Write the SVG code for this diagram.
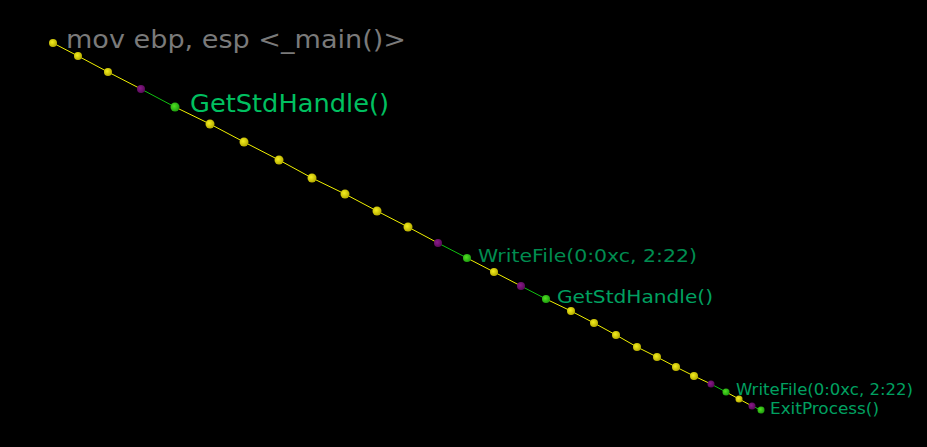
<svg xmlns="http://www.w3.org/2000/svg" width="927" height="447" viewBox="0 0 927 447">
<defs>
<radialGradient id="gy" cx="0.4" cy="0.4" r="0.6"><stop offset="0" stop-color="#f4ee20"/><stop offset="1" stop-color="#b8ae00"/></radialGradient>
<radialGradient id="gg" cx="0.4" cy="0.4" r="0.6"><stop offset="0" stop-color="#50e020"/><stop offset="1" stop-color="#20a010"/></radialGradient>
<radialGradient id="gp" cx="0.4" cy="0.4" r="0.6"><stop offset="0" stop-color="#8a1a8a"/><stop offset="1" stop-color="#5a0a5a"/></radialGradient>
</defs>
<style>
.y{stroke:#f0f000;stroke-width:1;fill:none}
.g{stroke:#10c010;stroke-width:1;fill:none}
.dy{fill:url(#gy)}
.dg{fill:url(#gg)}
.dp{fill:url(#gp)}
text{font-family:"DejaVu Sans",Verdana,sans-serif}
</style>
<rect width="927" height="447" fill="#000"/>
<g id="connectors">
<polyline class="y" points="53,43 78,56 108,72 141,89"/>
<line class="g" x1="141" y1="89" x2="175" y2="107"/>
<polyline class="y" points="175,107 210,124 244,142 279,160 312,178 345,194 377,211 408,227 438,243"/>
<line class="g" x1="438" y1="243" x2="467" y2="258"/>
<polyline class="y" points="467,258 494,272 521,286"/>
<line class="g" x1="521" y1="286" x2="546" y2="299"/>
<polyline class="y" points="546,299 571,311 594,323 616,335 637,347 657,357 676,367 694,376 711,384"/>
<line class="g" x1="711" y1="384" x2="726" y2="392"/>
<polyline class="y" points="726,392 739,399 752,406"/>
<line class="g" x1="752" y1="406" x2="761" y2="410"/>
</g>
<g id="dots">
<circle class="dy" cx="53" cy="43" r="4"/>
<circle class="dy" cx="78" cy="56" r="4"/>
<circle class="dy" cx="108" cy="72" r="4"/>
<circle class="dp" cx="141" cy="89" r="4"/>
<circle class="dy" cx="210" cy="124" r="4.5"/>
<circle class="dy" cx="244" cy="142" r="4.5"/>
<circle class="dy" cx="279" cy="160" r="4.5"/>
<circle class="dy" cx="312" cy="178" r="4.5"/>
<circle class="dy" cx="345" cy="194" r="4.5"/>
<circle class="dy" cx="377" cy="211" r="4.5"/>
<circle class="dy" cx="408" cy="227" r="4.5"/>
<circle class="dp" cx="438" cy="243" r="4"/>
<circle class="dy" cx="494" cy="272" r="4"/>
<circle class="dp" cx="521" cy="286" r="4"/>
<circle class="dy" cx="571" cy="311" r="4"/>
<circle class="dy" cx="594" cy="323" r="4"/>
<circle class="dy" cx="616" cy="335" r="4"/>
<circle class="dy" cx="637" cy="347" r="4"/>
<circle class="dy" cx="657" cy="357" r="4"/>
<circle class="dy" cx="676" cy="367" r="4"/>
<circle class="dy" cx="694" cy="376" r="4"/>
<circle class="dp" cx="711" cy="384" r="3.5"/>
<circle class="dy" cx="739" cy="399" r="3.5"/>
<circle class="dp" cx="752" cy="406" r="3.5"/>
</g>
<g id="n0"><text x="66" y="48" font-size="24" fill="#7a7a7a" textLength="340" lengthAdjust="spacingAndGlyphs">mov ebp, esp &lt;_main()&gt;</text></g>
<g id="n1"><circle class="dg" cx="175" cy="107" r="4.5"/><text x="190" y="112" font-size="24" fill="#00c060" textLength="199" lengthAdjust="spacingAndGlyphs">GetStdHandle()</text></g>
<g id="n2"><circle class="dg" cx="467" cy="258" r="4"/><text x="478" y="262" font-size="18.5" fill="#008c50" textLength="219" lengthAdjust="spacingAndGlyphs">WriteFile(0:0xc, 2:22)</text></g>
<g id="n3"><circle class="dg" cx="546" cy="299" r="4"/><text x="557" y="303" font-size="18.5" fill="#00a060" textLength="156" lengthAdjust="spacingAndGlyphs">GetStdHandle()</text></g>
<g id="n4"><circle class="dg" cx="726" cy="392" r="3.5"/><text x="736" y="395" font-size="15.5" fill="#00a060" textLength="177" lengthAdjust="spacingAndGlyphs">WriteFile(0:0xc, 2:22)</text></g>
<g id="n5"><circle class="dg" cx="761" cy="410" r="3.5"/><text x="770" y="414" font-size="15" fill="#00a060" textLength="109" lengthAdjust="spacingAndGlyphs">ExitProcess()</text></g>
</svg>
